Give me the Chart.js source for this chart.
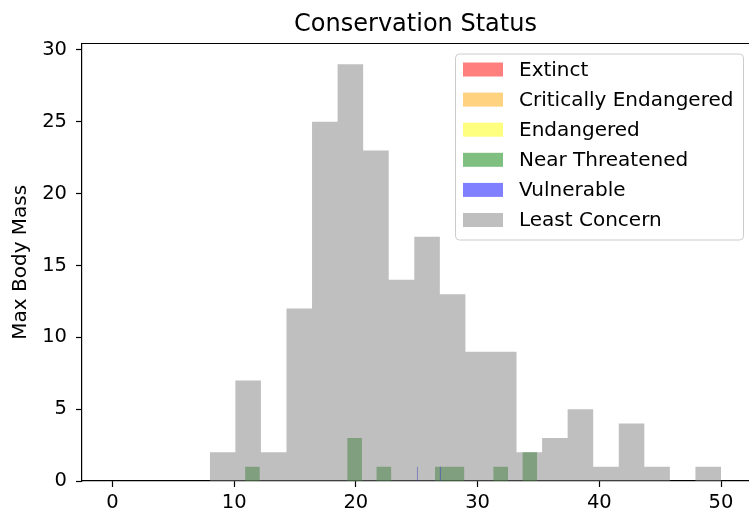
<!DOCTYPE html>
<html>
<head>
<meta charset="utf-8">
<script src="https://cdn.jsdelivr.net/npm/chart.js@4.4.1/dist/chart.umd.min.js"></script>
<style>
  html, body { margin: 0; padding: 0; background: #fff; overflow: hidden; }
  #chart { display: block; }
</style>
</head>
<body>
<canvas id="chart" width="749" height="514"></canvas>
<script>
// categories (legend order)
const statusLabels = ["Extinct", "Critically Endangered", "Endangered", "Near Threatened", "Vulnerable", "Least Concern"];
const statusColors = ["rgba(255,0,0,0.5)", "rgba(255,165,0,0.5)", "rgba(255,255,0,0.5)", "rgba(0,128,0,0.5)", "rgba(0,0,255,0.5)", "rgba(128,128,128,0.5)"];

// histogram bin edges and counts per status
const extinctEdges = [];
const extinctCounts = [];
const criticalEdges = [];
const criticalCounts = [];
const endangeredEdges = [];
const endangeredCounts = [];
const nearEdges = [10.9, 12.1, 13.3, 14.5, 15.7, 16.9, 18.1, 19.3, 20.5, 21.7, 22.9, 24.1, 25.3, 26.5, 27.7, 28.9, 30.1, 31.3, 32.5, 33.7, 34.9];
const nearCounts = [1, 0, 0, 0, 0, 0, 0, 3, 0, 1, 0, 0, 0, 1, 1, 0, 0, 1, 0, 2];
const vulnEdges = [25, 25.1, 25.2, 25.3, 25.4, 25.5, 25.6, 25.7, 25.8, 25.9, 26, 26.1, 26.2, 26.3, 26.4, 26.5, 26.6, 26.7, 26.8, 26.9, 27];
const vulnCounts = [1, 0, 0, 0, 0, 0, 0, 0, 0, 0, 0, 0, 0, 0, 0, 0, 0, 0, 0, 1];
const leastEdges = [8, 10.1, 12.2, 14.3, 16.4, 18.5, 20.6, 22.7, 24.8, 26.9, 29, 31.1, 33.2, 35.3, 37.4, 39.5, 41.6, 43.7, 45.8, 47.9, 50];
const leastCounts = [2, 7, 2, 12, 25, 29, 23, 14, 17, 13, 9, 9, 2, 3, 5, 1, 4, 1, 0, 1];

// tick labels
const xTicks = [0, 10, 20, 30, 40, 50];
const yTicks = [0, 5, 10, 15, 20, 25, 30];

const FONT = "'DejaVu Sans', sans-serif";

// outline of a histogram as points for a filled line
function histPoints(edges, counts) {
    if (counts.length === 0) return [];
    const pts = [{ x: edges[0], y: 0 }];
    counts.forEach((c, i) => {
        pts.push({ x: edges[i], y: c });
        pts.push({ x: edges[i + 1], y: c });
    });
    pts.push({ x: edges[edges.length - 1], y: 0 });
    return pts;
}

const allEdges = [extinctEdges, criticalEdges, endangeredEdges, nearEdges, vulnEdges, leastEdges];
const allCounts = [extinctCounts, criticalCounts, endangeredCounts, nearCounts, vulnCounts, leastCounts];

const datasets = statusLabels.map((label, i) => ({
    label: label,
    data: histPoints(allEdges[i], allCounts[i]),
    backgroundColor: statusColors[i],
    borderColor: statusColors[i],
    borderWidth: 0,
    pointRadius: 0,
    tension: 0,
    fill: "origin",
    order: statusLabels.length - 1 - i
}));

// top spine
const frameLine = {
    id: "frameLine",
    afterDraw(chart) {
        const { ctx, chartArea } = chart;
        ctx.save();
        ctx.strokeStyle = "#000";
        ctx.lineWidth = 1.2;
        ctx.beginPath();
        ctx.moveTo(chartArea.left, chartArea.top);
        ctx.lineTo(chartArea.right, chartArea.top);
        ctx.stroke();
        ctx.restore();
    }
};

// matplotlib style legend inside the axes
const boxLegend = {
    id: "boxLegend",
    afterDraw(chart) {
        const { ctx, chartArea } = chart;
        const w = 288, h = 186, rowH = 30.1;
        const x = chartArea.right - 6 - w;
        const y = chartArea.top + 10;
        ctx.save();
        ctx.beginPath();
        ctx.roundRect(x + 0.5, y + 0.5, w, h, 4);
        ctx.fillStyle = "rgba(255,255,255,0.8)";
        ctx.fill();
        ctx.strokeStyle = "#cccccc";
        ctx.lineWidth = 1;
        ctx.stroke();
        ctx.font = "20px " + FONT;
        ctx.textBaseline = "middle";
        ctx.textAlign = "left";
        chart.data.datasets.forEach((ds, i) => {
            const cy = y + 16 + i * rowH;
            ctx.fillStyle = ds.backgroundColor;
            ctx.fillRect(x + 8, cy - 7, 40, 14);
            ctx.fillStyle = "#000";
            ctx.fillText(ds.label, x + 64, cy + 1);
        });
        ctx.restore();
    }
};

new Chart(document.getElementById("chart"), {
    type: "line",
    data: { datasets: datasets },
    options: {
        responsive: false,
        animation: false,
        events: [],
        layout: { padding: { left: 0, right: 0, top: 0, bottom: 0 } },
        plugins: {
            legend: { display: false },
            tooltip: { enabled: false },
            title: {
                display: true,
                text: "Conservation Status",
                fullSize: false,
                color: "#000",
                font: { family: FONT, size: 24, weight: "normal" },
                padding: { top: 10, bottom: 4.7 }
            }
        },
        scales: {
            x: {
                type: "linear",
                min: -2.5,
                max: 52.3,
                afterBuildTicks: s => { s.ticks = xTicks.map(v => ({ value: v })); },
                afterFit: s => { s.height = 33; },
                grid: { drawOnChartArea: false, drawTicks: true, tickLength: 6, tickColor: "#000", tickWidth: 1.2 },
                border: { display: true, color: "#000", width: 1.2 },
                ticks: { color: "#000", padding: 4, maxRotation: 0, font: { family: FONT, size: 19.5 } }
            },
            y: {
                type: "linear",
                min: 0,
                max: 30.45,
                afterBuildTicks: s => { s.ticks = yTicks.map(v => ({ value: v })); },
                afterFit: s => { s.width = 82; },
                grid: { drawOnChartArea: false, drawTicks: true, tickLength: 6, tickColor: "#000", tickWidth: 1.2 },
                border: { display: true, color: "#000", width: 1.2 },
                ticks: { color: "#000", padding: 9, font: { family: FONT, size: 19.5 } },
                title: {
                    display: true,
                    text: "Max Body Mass",
                    color: "#000",
                    font: { family: FONT, size: 20 },
                    padding: { top: 8.5, bottom: 0 }
                }
            }
        }
    },
    plugins: [frameLine, boxLegend]
});
</script>
</body>
</html>
